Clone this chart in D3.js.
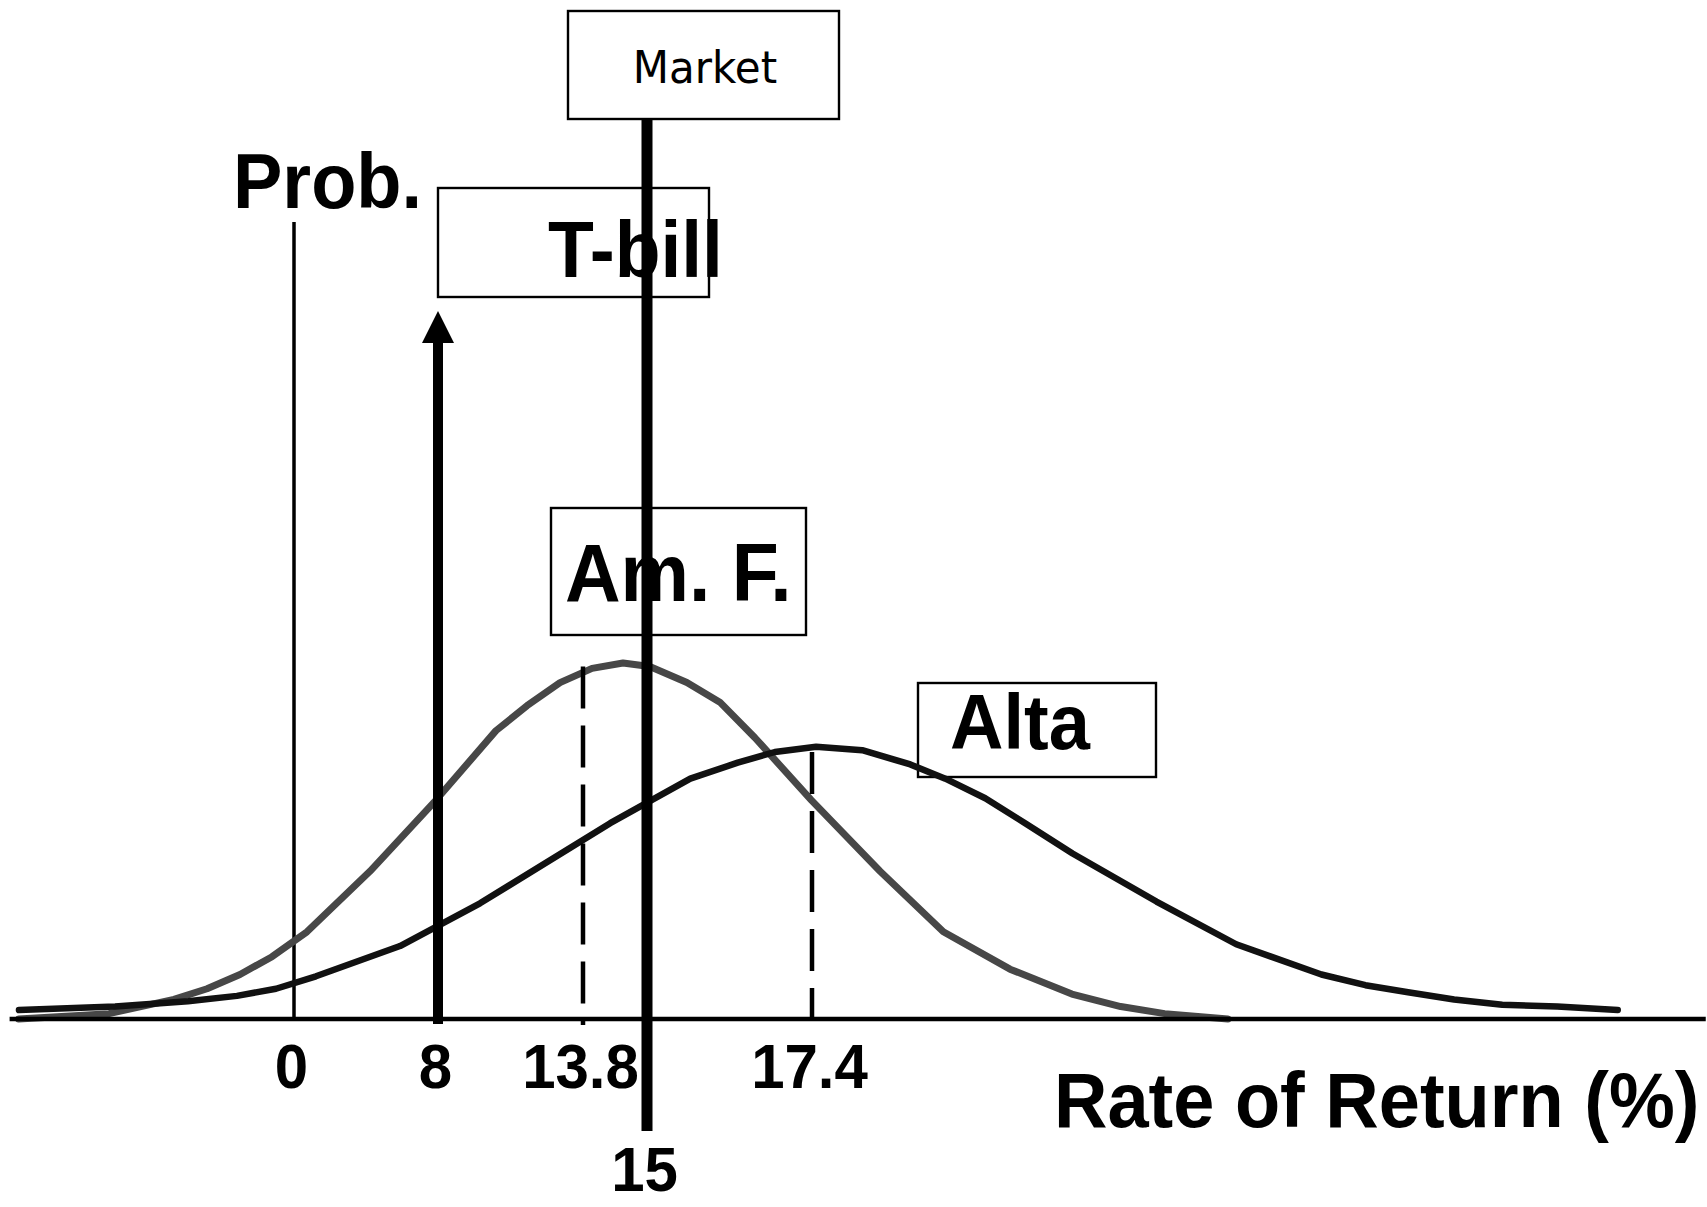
<!DOCTYPE html>
<html>
<head>
<meta charset="utf-8">
<script src="https://cdn.jsdelivr.net/npm/d3@7"></script>
<style>
  html, body { margin: 0; padding: 0; background: #fff; }
  svg { display: block; }
</style>
</head>
<body>
<svg id="chart" width="1707" height="1207"></svg>
<script>
// Return distributions: rate of return (%) and probability density
const amfReturns = [-15.3, -10.28, -6.67, -4.83, -3.0, -1.22, 0.72, 4.22, 7.89, 10.32, 11.56, 12.88, 13.97, 14.55, 15.04, 15.58, 16.06, 16.57, 17.39, 18.39, 19.31, 20.28, 21.18, 21.89, 22.53, 23.45];
const amfProb    = [0.000, 0.003, 0.011, 0.017, 0.025, 0.035, 0.049, 0.083, 0.123, 0.162, 0.176, 0.189, 0.197, 0.200, 0.198, 0.189, 0.178, 0.158, 0.123, 0.083, 0.049, 0.028, 0.014, 0.007, 0.003, 0.000];

const altaReturns = [-15.28, -9.94, -5.89, -3.17, -1.0, 1.22, 5.89, 9.68, 14.31, 15.63, 16.32, 16.86, 17.46, 18.13, 18.83, 19.34, 19.92, 20.5, 21.19, 22.41, 23.57, 24.81, 25.45, 26.07, 26.74, 27.44, 28.24, 29.12];
const altaProb    = [0.005, 0.007, 0.010, 0.013, 0.017, 0.024, 0.041, 0.065, 0.110, 0.135, 0.144, 0.150, 0.153, 0.151, 0.143, 0.135, 0.124, 0.110, 0.093, 0.066, 0.042, 0.025, 0.019, 0.015, 0.011, 0.008, 0.007, 0.005];

// Expected returns and the density reached by their dashed markers
const expectedReturns = [13.8, 17.4];
const expectedDensity = [0.198, 0.150];

// Riskless and market returns
const tbillReturn = 8;
const marketReturn = 15;

// Axis tick labels
const tickValues = [0, 8, 13.8, 15, 17.4];
const axisExtent = [-15.8, 30.4];

// Text labels
const seriesNames = ["Am. F.", "Alta"];
const boxLabels = ["Market", "T-bill"];
const yTitle = "Prob.";
const xTitle = "Rate of Return (%)";

// ---- layout ----
const W = 1707, H = 1207;
const baseY = 1019;
const STRETCH = 1.05;
const boldFont = "'Liberation Sans', Arial, Helvetica, sans-serif";

const svg = d3.select("#chart");
svg.append("rect").attr("width", W).attr("height", H).attr("fill", "#fff");

// Piecewise scale: the diagram is schematic, so the return axis is not uniform
const x = d3.scaleLinear()
  .domain([0, 8, 13.8, 15, 17.4])
  .range([294, 438, 583, 647, 812]);

const y = d3.scaleLinear().domain([0, 0.2]).range([baseY, 663]);

function label(g, txt, px, py, opts) {
  const o = Object.assign({ size: 74, weight: "bold", family: boldFont, anchor: "start" }, opts || {});
  return g.append("text")
    .attr("transform", `translate(${px},${py}) scale(1,${STRETCH})`)
    .attr("text-anchor", o.anchor)
    .attr("font-family", o.family)
    .attr("font-weight", o.weight)
    .attr("font-size", o.size)
    .attr("fill", "#000")
    .text(txt);
}

// Label boxes
const boxes = svg.append("g").attr("fill", "none").attr("stroke", "#000").attr("stroke-width", 2.4);
boxes.append("rect").attr("x", 568).attr("y", 11).attr("width", 271).attr("height", 108);   // Market
boxes.append("rect").attr("x", 438).attr("y", 188).attr("width", 271).attr("height", 109);  // T-bill
boxes.append("rect").attr("x", 551).attr("y", 508).attr("width", 255).attr("height", 127);  // Am. F.
boxes.append("rect").attr("x", 918).attr("y", 683).attr("width", 238).attr("height", 94);   // Alta

// Vertical line at zero return (probability axis)
svg.append("line")
  .attr("x1", x(0)).attr("x2", x(0))
  .attr("y1", 222).attr("y2", baseY)
  .attr("stroke", "#000").attr("stroke-width", 3.5);

// Distribution curves
const line = d3.line().x(d => x(d[0])).y(d => y(d[1]));
const amfData = d3.zip(amfReturns, amfProb);
const altaData = d3.zip(altaReturns, altaProb);

svg.append("path")
  .datum(amfData)
  .attr("d", line)
  .attr("fill", "none")
  .attr("stroke", "#474747")
  .attr("stroke-width", 7)
  .attr("stroke-linejoin", "round")
  .attr("stroke-linecap", "round");

svg.append("path")
  .datum(altaData)
  .attr("d", line)
  .attr("fill", "none")
  .attr("stroke", "#111")
  .attr("stroke-width", 6.5)
  .attr("stroke-linejoin", "round")
  .attr("stroke-linecap", "round");

// Dashed markers at the expected returns
const dashEnds = [1025, baseY];
expectedReturns.forEach((r, i) => {
  svg.append("line")
    .attr("x1", x(r)).attr("x2", x(r))
    .attr("y1", y(expectedDensity[i])).attr("y2", dashEnds[i])
    .attr("stroke", "#000")
    .attr("stroke-width", 4.5)
    .attr("stroke-dasharray", "42,17");
});

// Horizontal return axis line
svg.append("line")
  .attr("x1", x(axisExtent[0])).attr("x2", x(axisExtent[1]))
  .attr("y1", baseY).attr("y2", baseY)
  .attr("stroke", "#000").attr("stroke-width", 4.5);

// T-bill: certain return, drawn as an arrow
const tx = x(tbillReturn);
svg.append("line")
  .attr("x1", tx).attr("x2", tx)
  .attr("y1", 1024).attr("y2", 338)
  .attr("stroke", "#000").attr("stroke-width", 10);
svg.append("path")
  .attr("d", `M${tx},311 L${tx + 16},343 L${tx - 16},343 Z`)
  .attr("fill", "#000");

// Market return line
const mx = x(marketReturn);
svg.append("line")
  .attr("x1", mx).attr("x2", mx)
  .attr("y1", 119).attr("y2", 1131)
  .attr("stroke", "#000").attr("stroke-width", 11);

// Tick labels via d3 axis
const axis = d3.axisBottom(x)
  .tickValues(tickValues)
  .tickSize(0)
  .tickFormat(d => String(d));
const axG = svg.append("g").attr("transform", `translate(0,${baseY})`).call(axis);
axG.select(".domain").remove();
axG.selectAll("text")
  .attr("y", 0).attr("dy", null)
  .attr("fill", "#000")
  .attr("font-family", boldFont)
  .attr("font-weight", "bold")
  .attr("font-size", 60)
  .attr("transform", d => `translate(-3,${d === marketReturn ? 172 : 69}) scale(1,${STRETCH})`);
axG.attr("font-family", null).attr("font-size", null);

// Text labels
label(svg, boxLabels[0], 705, 83, { size: 42, weight: "normal", family: "'DejaVu Sans', Verdana, sans-serif", anchor: "middle" });
label(svg, boxLabels[1], 548, 277, { size: 75 });
label(svg, seriesNames[0], 565, 601, { size: 77 });
label(svg, seriesNames[1], 950, 749);
label(svg, yTitle, 233, 208);
label(svg, xTitle, 1054, 1127, { size: 74 });
</script>
</body>
</html>
